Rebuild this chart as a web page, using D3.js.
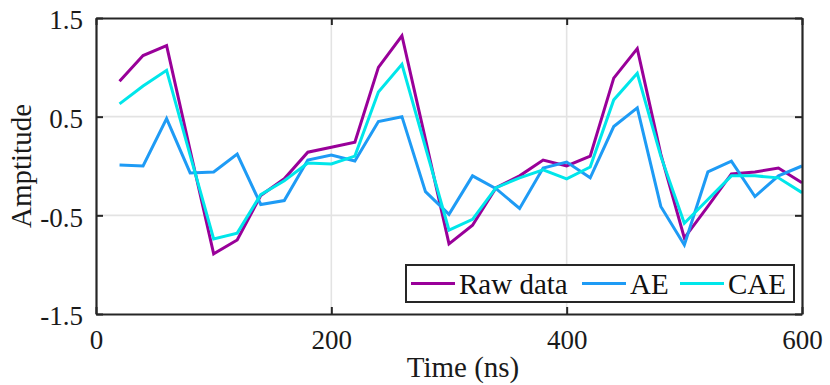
<!DOCTYPE html>
<html>
<head>
<meta charset="utf-8">
<script src="https://cdn.jsdelivr.net/npm/d3@7"></script>
<style>
  html, body { margin: 0; padding: 0; background: #fff; }
  svg text { font-family: 'Liberation Serif', 'Tinos', 'Times New Roman', Times, 'Nimbus Roman', 'FreeSerif', 'Noto Serif', 'DejaVu Serif', serif !important; }
</style>
</head>
<body>
<div id="chart"></div>
<script>
const time = [20,40,60,80,100,120,140,160,180,200,220,240,260,280,300,320,340,360,380,400,420,440,460,480,500,520,540,560,580,600];
const rawData = [0.86,1.12,1.22,0.16,-0.89,-0.75,-0.30,-0.13,0.14,0.19,0.24,1.00,1.32,0.27,-0.79,-0.60,-0.22,-0.10,0.06,0.00,0.10,0.89,1.19,0.12,-0.73,-0.41,-0.08,-0.06,-0.02,-0.17];
const aeData = [0.01,0.00,0.48,-0.07,-0.06,0.12,-0.39,-0.35,0.06,0.11,0.05,0.45,0.50,-0.26,-0.49,-0.10,-0.23,-0.43,-0.02,0.04,-0.12,0.40,0.59,-0.41,-0.80,-0.06,0.05,-0.31,-0.10,0.00];
const caeData = [0.63,0.81,0.97,0.11,-0.74,-0.68,-0.29,-0.15,0.03,0.02,0.10,0.75,1.03,0.19,-0.65,-0.54,-0.22,-0.12,-0.04,-0.13,-0.01,0.67,0.94,0.10,-0.58,-0.34,-0.10,-0.10,-0.12,-0.27];
const seriesNames = ["Raw data", "AE", "CAE"];
const seriesColors = ["#990099", "#1e9bf5", "#00e6ea"];
const xTicks = [0, 200, 400, 600];
const yTicks = [-1.5, -0.5, 0.5, 1.5];
const yTickLabels = ["-1.5", "-0.5", "0.5", "1.5"];
const xLabel = "Time (ns)";
const yLabel = "Amptitude";

const W = 830, H = 385;
const m = { left: 96, right: 28, top: 18, bottom: 71 };
const iw = W - m.left - m.right, ih = H - m.top - m.bottom;
const FONT = "'Liberation Serif', 'Tinos', 'Times New Roman', Times, 'Nimbus Roman', 'FreeSerif', 'Noto Serif', 'DejaVu Serif', serif";

const svg = d3.select("#chart").append("svg").attr("width", W).attr("height", H)
  .style("display", "block");
const x = d3.scaleLinear().domain([0, 600]).range([m.left, m.left + iw]);
const y = d3.scaleLinear().domain([-1.5, 1.5]).range([m.top + ih, m.top]);

// grid
const grid = svg.append("g");
grid.selectAll(".gx").data(xTicks.slice(1, -1)).enter().append("line")
  .attr("x1", d => x(d)).attr("x2", d => x(d)).attr("y1", m.top).attr("y2", m.top + ih)
  .attr("stroke", "#e3e3e3").attr("stroke-width", 1.6);
grid.selectAll(".gy").data(yTicks.slice(1, -1)).enter().append("line")
  .attr("y1", d => y(d)).attr("y2", d => y(d)).attr("x1", m.left).attr("x2", m.left + iw)
  .attr("stroke", "#e3e3e3").attr("stroke-width", 1.6);

// lines
svg.append("clipPath").attr("id", "clip").append("rect")
  .attr("x", m.left).attr("y", m.top).attr("width", iw).attr("height", ih);
const series = [rawData, aeData, caeData];
const line = d3.line().x((d, i) => x(time[i])).y(d => y(d));
svg.append("g").attr("clip-path", "url(#clip)").selectAll("path").data(series).enter().append("path")
  .attr("d", d => line(d)).attr("fill", "none")
  .attr("stroke", (d, i) => seriesColors[i]).attr("stroke-width", 3);

// axes
const tickLen = 7;
const axisColor = "#262626";
const axB = svg.append("g").attr("transform", `translate(0,${m.top + ih})`)
  .call(d3.axisBottom(x).tickValues(xTicks).tickSizeInner(-tickLen).tickSizeOuter(0).tickPadding(16).tickFormat(d => String(d)));
const axT = svg.append("g").attr("transform", `translate(0,${m.top})`)
  .call(d3.axisTop(x).tickValues(xTicks).tickSizeInner(-tickLen).tickSizeOuter(0).tickFormat(""));
const axL = svg.append("g").attr("transform", `translate(${m.left},0)`)
  .call(d3.axisLeft(y).tickValues(yTicks).tickSizeInner(-tickLen).tickSizeOuter(0).tickPadding(13)
    .tickFormat((d, i) => yTickLabels[i]));
const axR = svg.append("g").attr("transform", `translate(${m.left + iw},0)`)
  .call(d3.axisRight(y).tickValues(yTicks).tickSizeInner(-tickLen).tickSizeOuter(0).tickFormat(""));
[axB, axT, axL, axR].forEach(a => {
  a.attr("font-family", FONT);
  a.select(".domain").attr("stroke", axisColor).attr("stroke-width", 2.2);
  a.selectAll(".tick line").attr("stroke", axisColor).attr("stroke-width", 2);
  a.selectAll("text").attr("fill", "#1a1a1a").attr("font-size", 27).style("font-family", FONT);
});
axB.selectAll("text").attr("dy", "0.71em");
axL.selectAll("text").attr("dy", "0.4em");

// axis labels
svg.append("text").attr("x", 463).attr("y", 377).attr("text-anchor", "middle")
  .attr("font-size", 29).attr("fill", "#1a1a1a").style("font-family", FONT).text(xLabel);
svg.append("text").attr("transform", `translate(31,${m.top + ih / 2}) rotate(-90)`)
  .attr("text-anchor", "middle").attr("font-size", 29).attr("fill", "#1a1a1a").style("font-family", FONT).text(yLabel);

// legend
const lg = svg.append("g");
lg.append("rect").attr("x", 406).attr("y", 265).attr("width", 388).attr("height", 37)
  .attr("fill", "#fff").attr("stroke", axisColor).attr("stroke-width", 2);
const legendX = [411, 582, 680];
seriesNames.forEach((name, i) => {
  lg.append("line").attr("x1", legendX[i]).attr("x2", legendX[i] + 44)
    .attr("y1", 283.5).attr("y2", 283.5).attr("stroke", seriesColors[i]).attr("stroke-width", 3);
  lg.append("text").attr("x", legendX[i] + 48).attr("y", 294)
    .attr("font-size", 29).attr("fill", "#111").style("font-family", FONT).text(name);
});
</script>
</body>
</html>
